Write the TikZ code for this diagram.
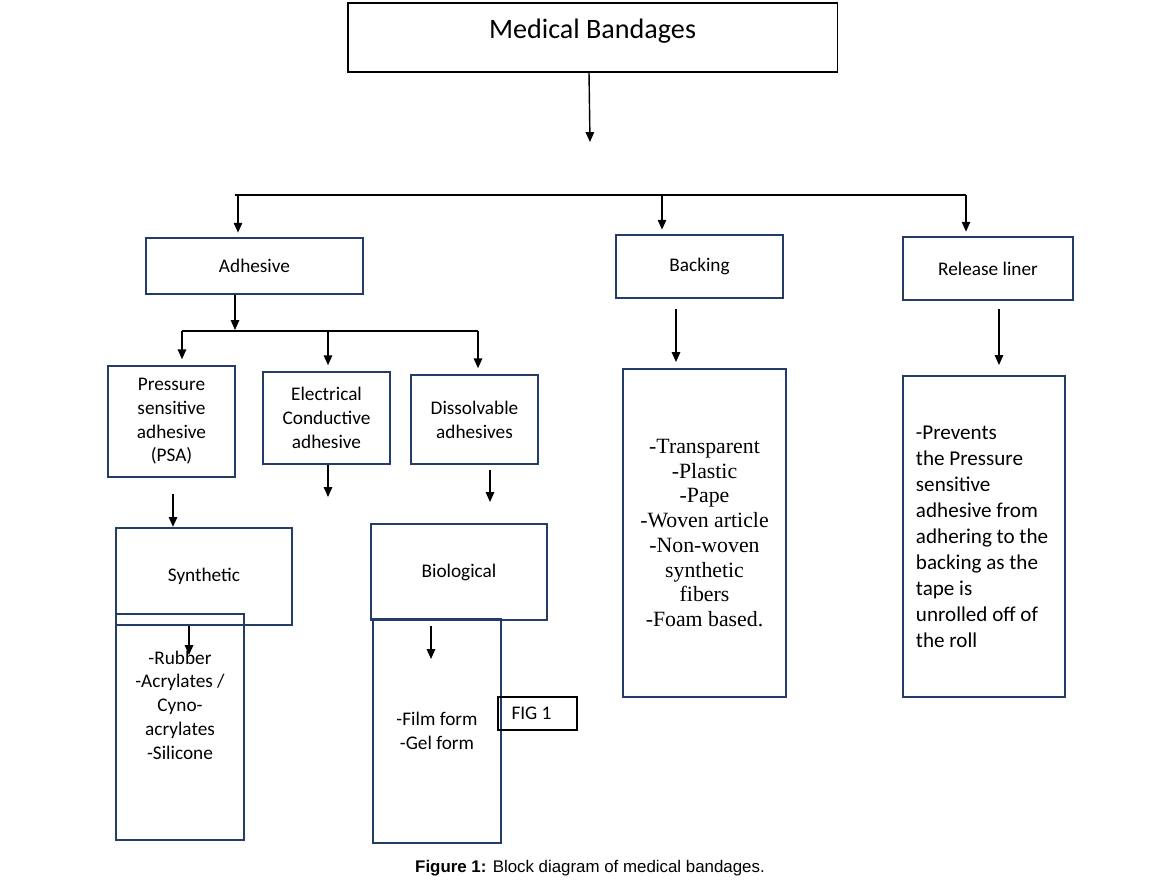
\documentclass[tikz,border=0pt]{standalone}
\usepackage{fontspec}
\setmainfont{Carlito}
\newfontfamily\listfont{Liberation Serif}
\newfontfamily\capfont{Liberation Sans}
\usetikzlibrary{arrows.meta}
\definecolor{navy}{RGB}{38,60,104}
\tikzset{
  box/.style={draw=navy, line width=1.6pt, inner sep=0pt, align=center, font=\fontsize{13.7}{16.9}\selectfont},
  thinbox/.style={draw=black, line width=0.8pt, inner sep=0pt},
  txt/.style={align=center, inner sep=0pt, font=\fontsize{13.7}{16.9}\selectfont},
  arr/.style={line width=1pt, -{Triangle[length=7pt,width=6pt]}},
  bus/.style={line width=1pt}
}
\begin{document}
\begin{tikzpicture}[x=0.025cm, y=-0.025cm]
\useasboundingbox (0,0) rectangle (1161,885);
\node[thinbox, minimum width=12.225cm, minimum height=1.725cm] (mb) at (592.5,37.5) {};
\node[txt, font=\fontsize{20}{24}\selectfont] (mbtxt) at (592.5,31) {Medical Bandages};
\draw[arr] (mb.south -| 589,0) -- (590,142);

\node[box, minimum width=5.425cm, minimum height=1.4cm] (adh) at (254.5,266) {Adhesive};
\node[box, minimum width=4.175cm, minimum height=1.575cm] (back) at (699.5,266.5) {Backing};
\node[box, minimum width=4.25cm, minimum height=1.575cm] (rel) at (988,268.5) {Release liner};
\draw[bus] (235,195) -- (966,195);
\foreach \x/\n in {238/adh,662/back,966/rel} \draw[arr, shorten >=3pt] (\x,195) -- (\n.north -| \x,0);

\node[box, minimum width=3.175cm, minimum height=2.775cm] (psa) at (171.5,421.5) {Pressure\\sensitive\\adhesive\\(PSA)};
\node[box, minimum width=3.175cm, minimum height=2.3cm] (elec) at (326.5,418) {Electrical\\Conductive\\adhesive};
\node[box, minimum width=3.175cm, minimum height=2.225cm] (diss) at (474.5,419.5) {Dissolvable\\adhesives};
\draw[arr] (adh.south -| 235,0) -- (235,330);
\draw[bus] (182,331) -- (478,331);
\foreach \x/\n in {182/psa,328/elec,478/diss} \draw[arr, shorten >=4pt] (\x,331) -- (\n.north -| \x,0);

\node[box, minimum width=4.4cm, minimum height=2.425cm] (syn) at (204,576.5) {Synthetic};
\node[box, minimum width=3.2cm, minimum height=5.65cm] (rub) at (180,727) {};
\node[txt] (rubtxt) at (180,705) {-Rubber\\-Acrylates /\\Cyno-\\acrylates\\-Silicone};
\draw[arr] (173,494) -- (syn.north -| 173,0);
\draw[arr] (elec.south -| 328,0) -- (328,497);
\draw[arr] (syn.south -| 189,0) -- (189,655);

\node[box, minimum width=4.4cm, minimum height=2.4cm] (bio) at (459,572) {Biological};
\node[box, minimum width=3.2cm, minimum height=5.6cm] (film) at (437,731) {-Film form\\-Gel form};
\node[thinbox, minimum width=1.975cm, minimum height=0.825cm, text width=1.3cm, align=flush left, font=\fontsize{13.7}{16.9}\selectfont] (fig) at (537.5,713.5) {FIG 1};
\draw[arr] (490,470) -- (490,502);
\draw[arr] (431,626) -- (431,659);

\node[box, minimum width=4.075cm, minimum height=8.2cm, font=\listfont\fontsize{15.5}{17.6}\selectfont] (backlist) at (704.5,533) {-Transparent\\-Plastic\\-Pape\\-Woven article\\-Non-woven\\synthetic\\fibers\\-Foam based.};
\draw[arr] (676,309) -- (676,362);

\node[box, minimum width=4.05cm, minimum height=8.025cm, align=flush left, text width=3.4cm, inner xsep=0.325cm, font=\fontsize{15}{18.5}\selectfont] (relnote) at (984,536.5) {-Prevents\\the Pressure\\sensitive\\adhesive from\\adhering to the\\backing as the\\tape is\\unrolled off of\\the roll};
\draw[arr] (999,309) -- (999,365);

\node[txt, font=\capfont\fontsize{12}{14}\selectfont] (cap) at (590,868) {\textbf{Figure 1:} Block diagram of medical bandages.};
\end{tikzpicture}
\end{document}
